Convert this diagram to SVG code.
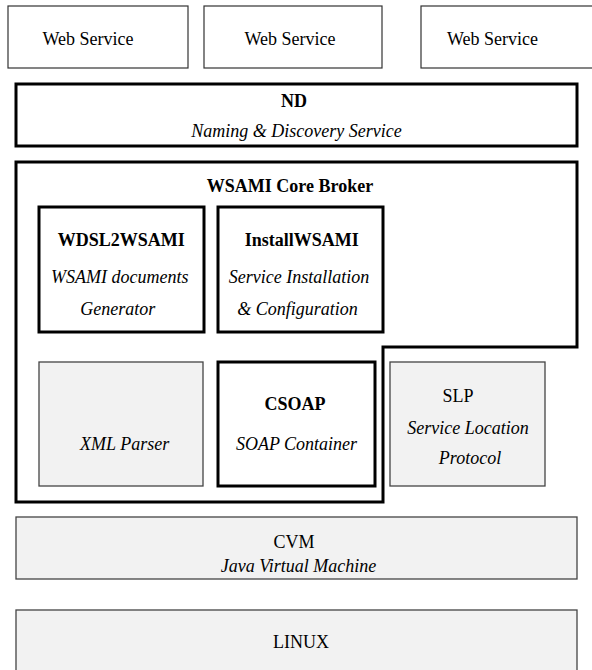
<svg xmlns="http://www.w3.org/2000/svg" width="592" height="670" viewBox="0 0 592 670" font-family="'Liberation Serif', 'DejaVu Serif', serif">
<style>
text{font-family:'Liberation Serif','DejaVu Serif',serif;font-size:18px;fill:#000;text-anchor:middle}
.b{font-weight:bold}
.i{font-style:italic}
.thin{fill:#fff;stroke:#333;stroke-width:1.2}
.thick{fill:#fff;stroke:#000;stroke-width:3}
.gray{fill:#f2f2f2;stroke:#444;stroke-width:1.3}
</style>
<rect width="592" height="670" fill="#fff"/>
<g id="ws1"><rect class="thin" x="8" y="6" width="180" height="62"/><text x="88" y="45">Web Service</text></g>
<g id="ws2"><rect class="thin" x="204" y="6" width="178" height="62"/><text x="290" y="45">Web Service</text></g>
<g id="ws3"><rect class="thin" x="421" y="6" width="175" height="62"/><text x="492.5" y="45">Web Service</text></g>
<g id="nd"><rect class="thick" x="16" y="84" width="561" height="62"/><text class="b" x="294" y="107">ND</text><text class="i" x="296.5" y="137">Naming &amp; Discovery Service</text></g>
<g id="broker"><path class="thick" d="M16,162 H577 V347 H383 V502 H16 Z"/><text class="b" x="290" y="192">WSAMI Core Broker</text></g>
<g id="wdsl"><rect class="thick" x="39" y="207" width="165" height="125"/><text class="b" x="121.3" y="246">WDSL2WSAMI</text><text class="i" x="119.7" y="283">WSAMI documents</text><text class="i" x="117.8" y="315">Generator</text></g>
<g id="install"><rect class="thick" x="218" y="207" width="165" height="125"/><text class="b" x="301.7" y="246">InstallWSAMI</text><text class="i" x="299" y="283">Service Installation</text><text class="i" x="297.5" y="315">&amp; Configuration</text></g>
<g id="xml"><rect class="gray" x="39" y="362" width="164" height="124"/><text class="i" x="124.6" y="450">XML Parser</text></g>
<g id="csoap"><rect class="thick" x="218" y="362" width="157" height="124"/><text class="b" x="295" y="410">CSOAP</text><text class="i" x="296.5" y="450">SOAP Container</text></g>
<g id="slp"><rect class="gray" x="390" y="362" width="155" height="124"/><text x="458" y="402">SLP</text><text class="i" x="468" y="434">Service Location</text><text class="i" x="470" y="464">Protocol</text></g>
<g id="cvm"><rect class="gray" x="16" y="517" width="561" height="62"/><text x="294" y="548">CVM</text><text class="i" x="298.5" y="572">Java Virtual Machine</text></g>
<g id="linux"><rect class="gray" x="16" y="610" width="561" height="64"/><text x="301" y="648">LINUX</text></g>
<g id="connectors"/>
</svg>
